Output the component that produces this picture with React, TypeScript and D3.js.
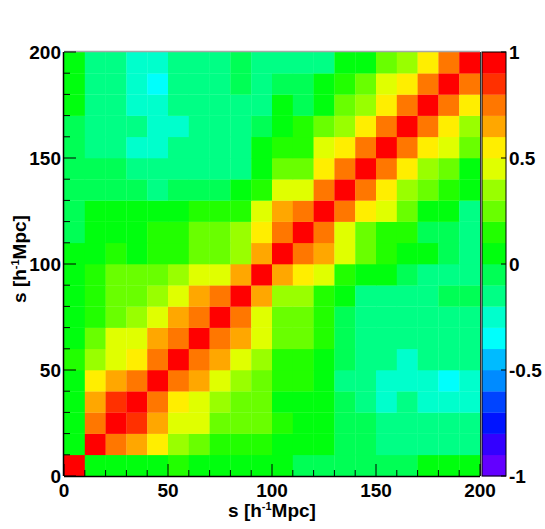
import React from 'react';
import * as d3 from 'd3';

// bin lower edges in s [h^-1 Mpc]
const binStarts = [0, 10, 20, 30, 40, 50, 60, 70, 80, 90, 100, 110, 120, 130, 140, 150, 160, 170, 180, 190];
const binWidth = 10;

// correlation matrix: correlation[row][col], row = y bin (bottom to top), col = x bin
const correlation: number[][] = [
  [1, 0.05, 0.05, 0.05, 0.05, 0.15, 0.05, 0.05, 0.05, 0.05, 0.05, -0.05, -0.05, -0.05, -0.05, -0.05, -0.05, 0.05, 0.05, 0.05],
  [0.05, 1, 0.75, 0.65, 0.55, 0.35, 0.25, 0.15, 0.15, 0.15, 0.05, 0.05, 0.05, -0.05, -0.05, -0.15, -0.15, -0.15, -0.15, -0.15],
  [0.05, 0.75, 1, 0.85, 0.65, 0.45, 0.45, 0.25, 0.25, 0.25, 0.15, 0.05, 0.05, -0.05, -0.05, -0.15, -0.15, -0.15, -0.15, -0.15],
  [0.05, 0.65, 0.85, 1, 0.75, 0.55, 0.45, 0.35, 0.25, 0.25, 0.05, 0.05, 0.05, -0.05, -0.15, -0.25, -0.15, -0.25, -0.25, -0.25],
  [0.05, 0.55, 0.65, 0.75, 1, 0.75, 0.65, 0.45, 0.35, 0.25, 0.15, 0.15, 0.05, -0.15, -0.15, -0.25, -0.25, -0.25, -0.35, -0.25],
  [0.15, 0.35, 0.45, 0.55, 0.75, 1, 0.75, 0.65, 0.45, 0.35, 0.15, 0.15, 0.05, -0.05, -0.15, -0.15, -0.25, -0.15, -0.15, -0.15],
  [0.05, 0.25, 0.45, 0.45, 0.65, 0.75, 1, 0.75, 0.65, 0.45, 0.25, 0.25, 0.15, -0.05, -0.15, -0.15, -0.15, -0.15, -0.15, -0.15],
  [0.05, 0.15, 0.25, 0.35, 0.45, 0.65, 0.75, 1, 0.75, 0.45, 0.25, 0.25, 0.15, -0.05, -0.15, -0.15, -0.15, -0.15, -0.15, -0.15],
  [0.05, 0.15, 0.25, 0.25, 0.35, 0.45, 0.65, 0.75, 1, 0.65, 0.35, 0.35, 0.15, 0.05, -0.15, -0.15, -0.15, -0.15, -0.05, -0.05],
  [0.05, 0.15, 0.25, 0.25, 0.25, 0.35, 0.45, 0.45, 0.65, 1, 0.65, 0.55, 0.45, 0.15, 0.05, 0.05, -0.05, -0.15, -0.15, -0.15],
  [0.05, 0.05, 0.15, 0.05, 0.15, 0.15, 0.25, 0.25, 0.35, 0.65, 1, 0.75, 0.65, 0.45, 0.25, 0.15, 0.05, 0.05, -0.05, -0.15],
  [-0.05, 0.05, 0.05, 0.05, 0.15, 0.15, 0.25, 0.25, 0.35, 0.55, 0.75, 1, 0.75, 0.45, 0.25, 0.15, 0.15, -0.05, -0.05, -0.15],
  [-0.05, 0.05, 0.05, 0.05, 0.05, 0.05, 0.15, 0.15, 0.15, 0.45, 0.65, 0.75, 1, 0.75, 0.55, 0.45, 0.25, 0.05, 0.05, -0.15],
  [-0.05, -0.05, -0.05, -0.05, -0.15, -0.05, -0.05, -0.05, 0.05, 0.15, 0.45, 0.45, 0.75, 1, 0.75, 0.55, 0.35, 0.25, 0.15, 0.05],
  [-0.05, -0.05, -0.05, -0.15, -0.15, -0.15, -0.15, -0.15, -0.15, 0.05, 0.25, 0.25, 0.55, 0.75, 1, 0.75, 0.55, 0.35, 0.25, 0.05],
  [-0.05, -0.15, -0.15, -0.25, -0.25, -0.15, -0.15, -0.15, -0.15, 0.05, 0.15, 0.15, 0.45, 0.55, 0.75, 1, 0.75, 0.55, 0.45, 0.25],
  [-0.05, -0.15, -0.15, -0.15, -0.25, -0.25, -0.15, -0.15, -0.15, -0.05, 0.05, 0.15, 0.25, 0.35, 0.55, 0.75, 1, 0.75, 0.55, 0.35],
  [0.05, -0.15, -0.15, -0.25, -0.25, -0.15, -0.15, -0.15, -0.15, -0.15, 0.05, -0.05, 0.05, 0.25, 0.35, 0.55, 0.75, 1, 0.75, 0.55],
  [0.05, -0.15, -0.15, -0.25, -0.35, -0.15, -0.15, -0.15, -0.05, -0.15, -0.05, -0.05, 0.05, 0.15, 0.25, 0.45, 0.55, 0.75, 1, 0.75],
  [0.05, -0.15, -0.15, -0.25, -0.25, -0.15, -0.15, -0.15, -0.05, -0.15, -0.15, -0.15, -0.15, 0.05, 0.05, 0.25, 0.35, 0.55, 0.75, 1],
];

const axisTicks = [0, 50, 100, 150, 200];
const minorTicks = [10, 20, 30, 40, 60, 70, 80, 90, 110, 120, 130, 140, 160, 170, 180, 190];
const zTicks = [-1, -0.5, 0, 0.5, 1];
const zTickLabels = ['-1', '-0.5', '0', '0.5', '1'];
const nContours = 20;

// ROOT "pretty palette" (violet -> red), 50 colours, sampled for 20 contours
const palette = d3.range(nContours).map((i) => {
  const ci = Math.floor((i + 0.99) * 50 / nContours);
  const hue = 280 - (ci + 1) * (280 / 50);
  return d3.hsl(hue, 1, 0.5).formatHex();
});

const W = 545;
const H = 529;
const L = 64, R = 480, T = 52, B = 476;
const FONT = "'Liberation Sans', Arial, Helvetica, sans-serif";

export default function App() {
  const x = d3.scaleLinear().domain([0, 200]).range([L, R]);
  const y = d3.scaleLinear().domain([0, 200]).range([B, T]);
  const color = d3.scaleQuantize<string>().domain([-1, 1]).range(palette);
  const zs = d3.scaleLinear().domain([-1, 1]).range([B, T]);
  const zLevels = d3.range(nContours).map((i) => -1 + (2 * i) / nContours);
  const barX0 = 482, barX1 = 506;

  return (
    <svg width={W} height={H} style={{ position: 'absolute', left: 0, top: 0, background: '#fff' }}
      fontFamily={FONT} fontWeight="bold">
      <rect x={0} y={0} width={W} height={H} fill="#fff" />
      {/* cells */}
      {correlation.map((row, ri) =>
        row.map((v, ci) => (
          <rect key={`${ri}-${ci}`}
            x={x(binStarts[ci])}
            y={y(binStarts[ri] + binWidth)}
            width={x(binStarts[ci] + binWidth) - x(binStarts[ci]) + 0.3}
            height={y(binStarts[ri]) - y(binStarts[ri] + binWidth) + 0.3}
            fill={color(v)} />
        ))
      )}
      {/* frame */}
      <line x1={L} x2={R} y1={T - 0.5} y2={T - 0.5} stroke="#a8a8a8" strokeWidth={1.5} />
      <line x1={R + 0.5} x2={R + 0.5} y1={T} y2={B} stroke="#333" strokeWidth={1} />
      {/* x axis */}
      <line x1={L} x2={R} y1={B + 0.5} y2={B + 0.5} stroke="#000" strokeWidth={1.5} />
      {axisTicks.map((t) => (
        <line key={`xM${t}`} x1={x(t)} x2={x(t)} y1={B} y2={B - 12} stroke="#000" strokeWidth={1} />
      ))}
      {minorTicks.map((t) => (
        <line key={`xm${t}`} x1={x(t)} x2={x(t)} y1={B} y2={B - 6} stroke="#000" strokeWidth={1} />
      ))}
      {axisTicks.map((t) => (
        <text key={`xl${t}`} x={x(t)} y={497} fontSize={19} textAnchor="middle">{t}</text>
      ))}
      <text x={(L + R) / 2} y={517} fontSize={19} textAnchor="middle">
        <tspan>s [h</tspan>
        <tspan fontSize={11} dy={-7}>-1</tspan>
        <tspan dy={7}>Mpc]</tspan>
      </text>
      {/* y axis */}
      <line x1={L - 0.5} x2={L - 0.5} y1={T} y2={B} stroke="#000" strokeWidth={1.5} />
      {axisTicks.map((t) => (
        <line key={`yM${t}`} x1={L} x2={L + 12} y1={y(t)} y2={y(t)} stroke="#000" strokeWidth={1} />
      ))}
      {minorTicks.map((t) => (
        <line key={`ym${t}`} x1={L} x2={L + 6} y1={y(t)} y2={y(t)} stroke="#000" strokeWidth={1} />
      ))}
      {axisTicks.map((t) => (
        <text key={`yl${t}`} x={61} y={y(t) + 7} fontSize={19} textAnchor="end">{t}</text>
      ))}
      <text transform={`translate(26, 259) rotate(-90)`} fontSize={19} textAnchor="middle">
        <tspan>s [h</tspan>
        <tspan fontSize={11} dy={-7}>-1</tspan>
        <tspan dy={7}>Mpc]</tspan>
      </text>
      {/* colour bar */}
      {zLevels.map((lv, i) => (
        <rect key={`z${i}`} x={barX0} y={zs(lv + 2 / nContours)} width={barX1 - barX0}
          height={zs(lv) - zs(lv + 2 / nContours) + 0.3} fill={palette[i]} />
      ))}
      <rect x={barX0} y={T} width={barX1 - barX0} height={B - T} fill="none" stroke="#000" strokeWidth={1} />
      {zTicks.map((t, i) => (
        <g key={`zt${t}`}>
          <line x1={barX1} x2={barX1 - 5} y1={zs(t)} y2={zs(t)} stroke="#000" strokeWidth={1} />
          <text x={barX1 + 3} y={zs(t) + 7} fontSize={19}>{zTickLabels[i]}</text>
        </g>
      ))}
    </svg>
  );
}
